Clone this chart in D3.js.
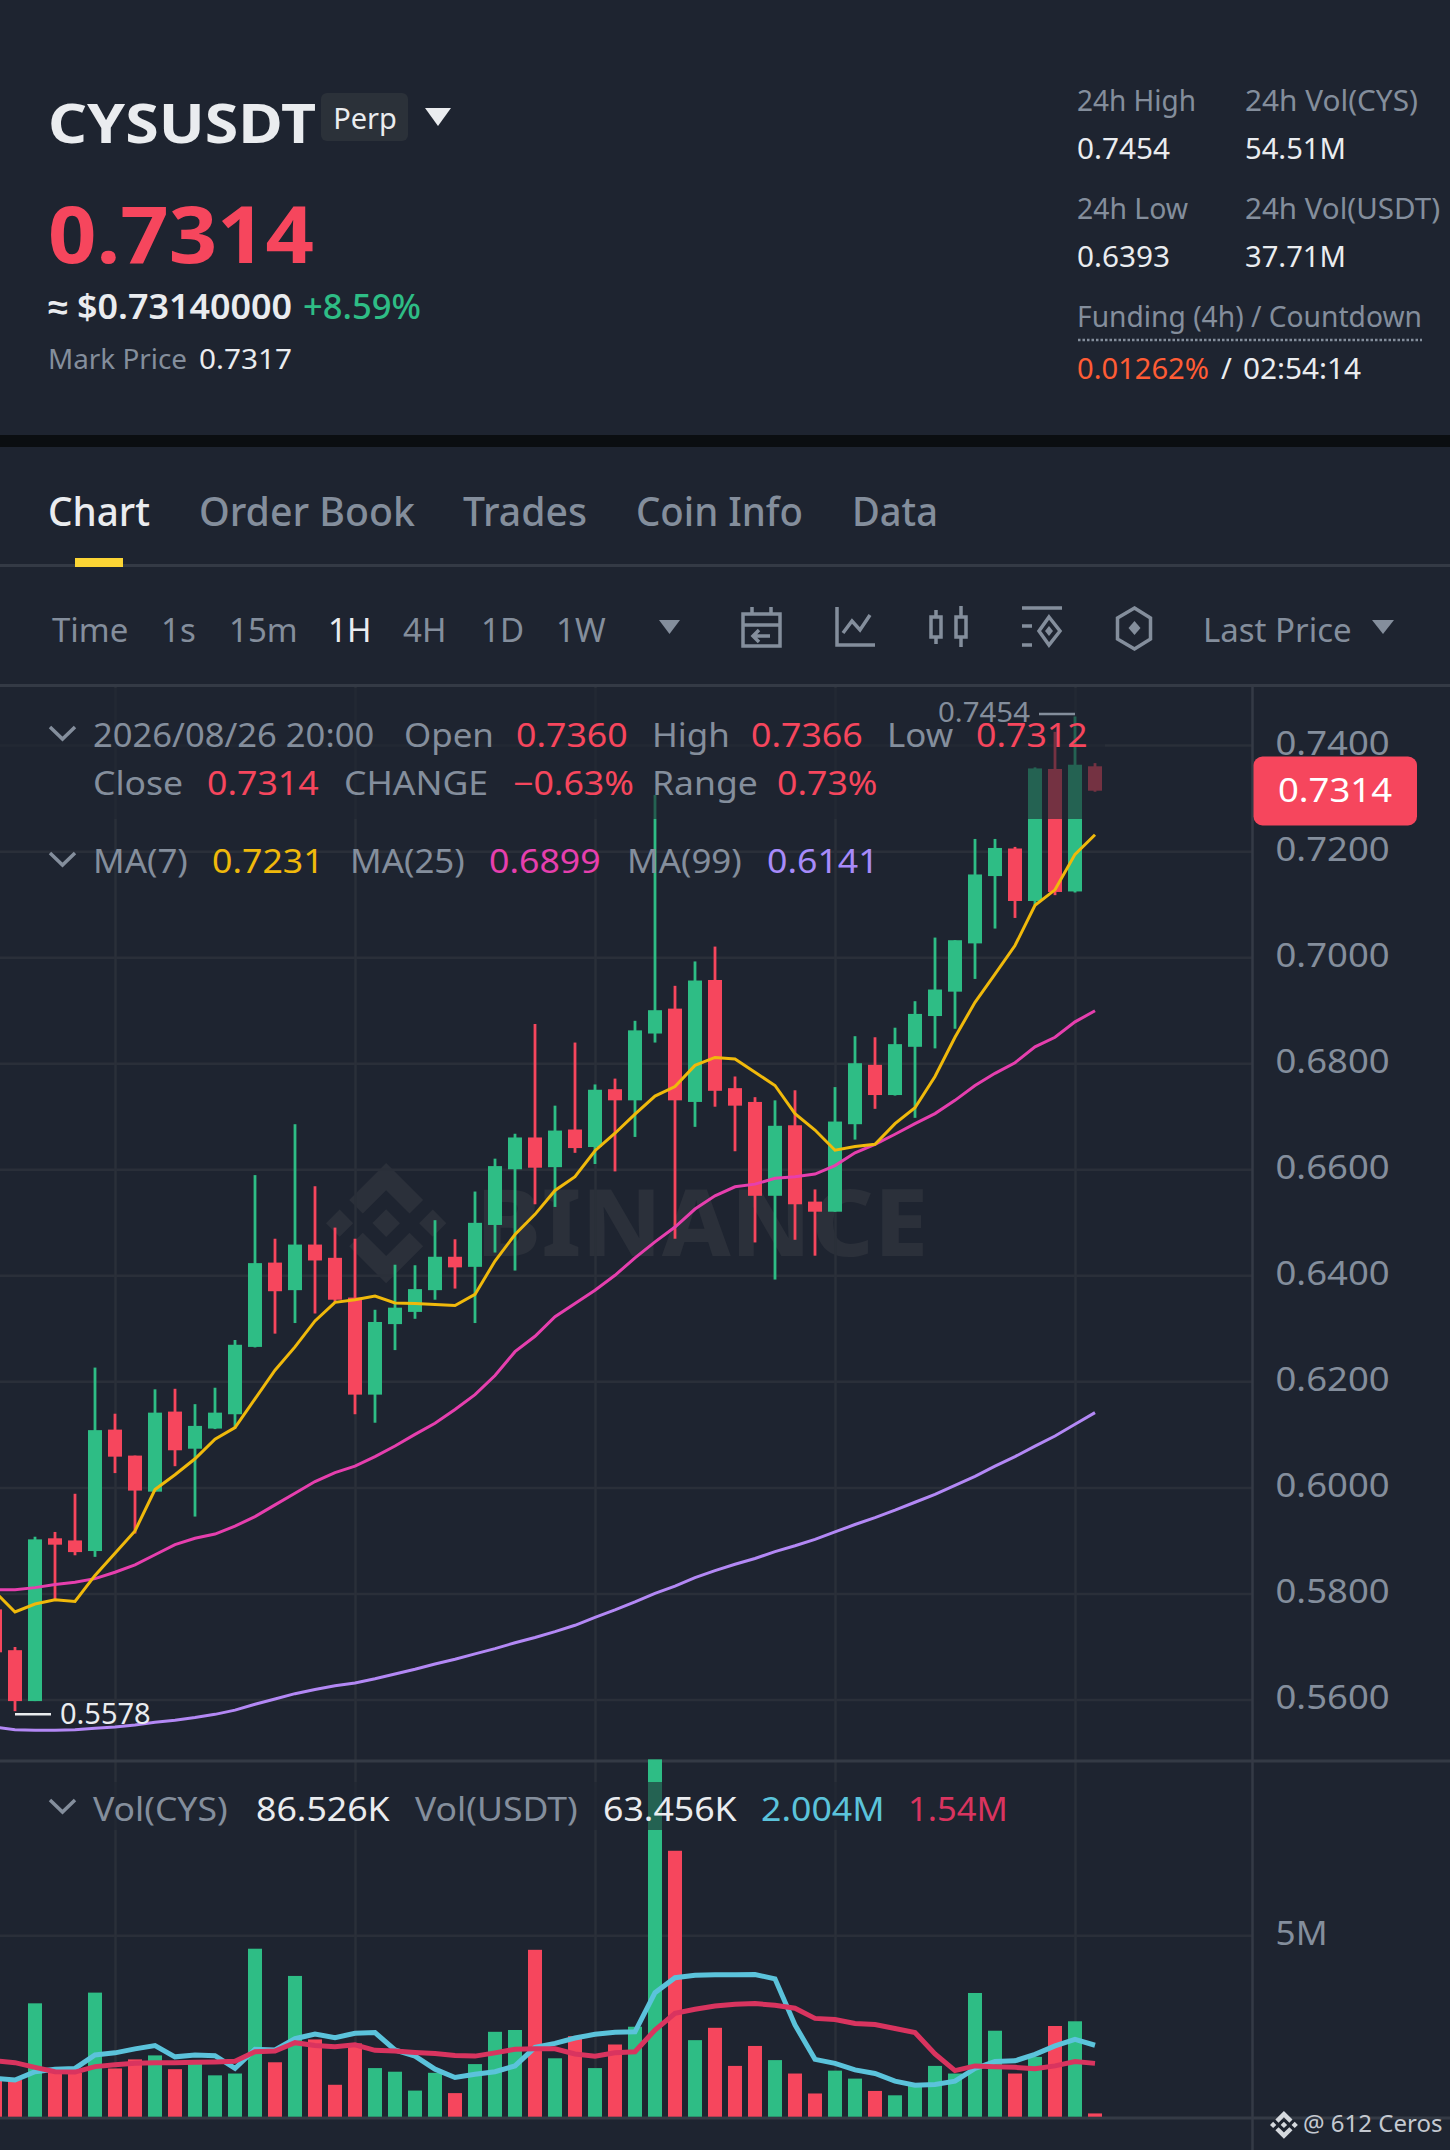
<!DOCTYPE html>
<html><head><meta charset="utf-8">
<script src="https://cdnjs.cloudflare.com/ajax/libs/d3/7.8.5/d3.min.js"></script>
<style>html,body{margin:0;padding:0;background:#1e2430;overflow:hidden}svg{display:block}text{font-family:"Noto Sans",sans-serif}</style>
</head><body><div id="c"></div>
<script>
const candleOpen=[.5770,.5693,.5597,.5904,.5900,.5880,.6109,.6060,.5992,.6143,.6073,.6111,.6138,.6265,.6424,.6372,.6458,.6433,.6358,.6175,.6308,.6331,.6372,.6435,.6416,.6495,.6600,.6660,.6604,.6675,.6642,.6751,.6730,.6856,.6903,.6727,.6957,.6753,.6727,.6550,.6683,.6539,.6520,.6685,.6797,.6740,.6831,.6889,.6935,.7026,.7153,.7205,.7106,.7355,.7124,.7360];
const candleHigh=[.5770,.5699,.5907,.5916,.5988,.6226,.6139,.6060,.6185,.6186,.6157,.6188,.6278,.6589,.6469,.6685,.6568,.6490,.6469,.6335,.6420,.6419,.6504,.6468,.6558,.6620,.6667,.6874,.6720,.6839,.6760,.6771,.6880,.7306,.6946,.6992,.7020,.6775,.6736,.6730,.6749,.6562,.6755,.6851,.6849,.6867,.6917,.7037,.7032,.7223,.7223,.7208,.7358,.7425,.7454,.7366];
const candleLow=[.5689,.5578,.5597,.5788,.5872,.5869,.6027,.5913,.5992,.6040,.5945,.6110,.6111,.6264,.6290,.6310,.6328,.6350,.6138,.6122,.6259,.6318,.6354,.6375,.6310,.6443,.6409,.6534,.6529,.6631,.6610,.6596,.6661,.6839,.6469,.6680,.6718,.6634,.6462,.6392,.6467,.6437,.6520,.6656,.6714,.6739,.6697,.6828,.6865,.6959,.7054,.7074,.7098,.7117,.7122,.7312];
const candleClose=[.5689,.5597,.5902,.5892,.5878,.6108,.6058,.5994,.6141,.6070,.6116,.6141,.6269,.6423,.6370,.6458,.6428,.6354,.6175,.6312,.6339,.6374,.6435,.6415,.6499,.6606,.6660,.6603,.6673,.6640,.6750,.6730,.6862,.6900,.6730,.6956,.6748,.6720,.6550,.6682,.6534,.6520,.6690,.6800,.6740,.6836,.6893,.6939,.7032,.7156,.7206,.7106,.7356,.7123,.7363,.7314];
const ma7=[.5803,.5765,.5780,.5788,.5785,.5834,.5876,.5918,.5996,.6024,.6054,.6091,.6113,.6167,.6221,.6265,.6314,.6349,.6354,.6361,.6348,.6347,.6345,.6343,.6364,.6427,.6477,.6515,.6560,.6586,.6635,.6668,.6704,.6738,.6756,.6796,.6811,.6808,.6783,.6758,.6705,.6674,.6636,.6643,.6647,.6686,.6716,.6775,.6849,.6915,.6968,.7022,.7098,.7127,.7194,.7231];
const ma25=[.5807,.5807,.5811,.5817,.5821,.5828,.5840,.5854,.5873,.5892,.5904,.5912,.5927,.5945,.5967,.5989,.6011,.6028,.6040,.6058,.6078,.6100,.6121,.6147,.6175,.6211,.6256,.6285,.6322,.6347,.6372,.6400,.6433,.6463,.6491,.6525,.6550,.6567,.6572,.6583,.6586,.6591,.6607,.6631,.6647,.6666,.6686,.6705,.6730,.6758,.6781,.6801,.6831,.6849,.6878,.6899];
const ma99=[.5548,.5543,.5542,.5542,.5543,.5546,.5548,.5552,.5557,.5561,.5566,.5572,.5580,.5591,.5601,.5611,.5619,.5626,.5631,.5639,.5648,.5657,.5667,.5676,.5686,.5696,.5707,.5717,.5728,.5740,.5755,.5769,.5784,.5800,.5814,.5830,.5843,.5855,.5866,.5879,.5890,.5902,.5916,.5930,.5943,.5957,.5972,.5987,.6004,.6021,.6040,.6058,.6078,.6097,.6119,.6141];
const volume=[1.06,1.01,3.125,1.21,1.21,3.42,1.33,1.58,1.69,1.31,1.47,1.14,1.19,4.63,1.50,3.88,2.13,.88,2.02,1.34,1.24,.72,1.21,.65,1.45,2.34,2.39,4.60,1.61,2.22,1.34,1.99,2.48,9.85,7.33,2.11,2.45,1.40,1.95,1.56,1.19,.64,1.27,1.05,.71,.59,.89,1.40,1.19,3.41,2.37,1.19,1.65,2.50,2.63,.09];
const volMa5=[1.06,1.01,1.24,1.31,1.33,1.70,1.76,1.87,1.96,1.65,1.70,1.68,1.33,1.86,1.84,2.15,2.28,2.18,2.30,2.32,1.84,1.67,1.31,1.08,1.17,1.24,1.40,1.91,2.02,2.17,2.27,2.33,2.34,3.42,3.83,3.90,3.91,3.91,3.92,3.80,2.53,1.58,1.47,1.29,1.19,.98,.87,.89,.98,1.33,1.52,1.54,1.72,1.95,2.13,1.97];
const volMa10=[1.54,1.49,1.36,1.24,1.23,1.38,1.43,1.47,1.49,1.49,1.50,1.51,1.53,1.79,1.81,2.04,1.96,1.93,1.98,1.83,1.81,1.77,1.74,1.69,1.67,1.76,1.86,1.87,1.87,1.73,1.67,1.76,1.79,2.39,2.85,2.96,3.05,3.10,3.12,3.07,2.99,2.71,2.68,2.57,2.54,2.43,2.32,1.73,1.27,1.40,1.38,1.36,1.32,1.40,1.52,1.47];
const priceTicks=[.74,.72,.70,.68,.66,.64,.62,.60,.58,.56];
const volTicks=[5];
const timeGridIdx=[6,18,30,42,54];
const tabs=["Chart","Order Book","Trades","Coin Info","Data"];
const intervals=["Time","1s","15m","1H","4H","1D","1W"];

const W=1450,H=2150,BG="#1e2430",UP="#2ebd85",DOWN="#f6465d",GRAY="#848e9c",WHITE="#eaecef",GRID="#2a2f39",SEP="#343a45";
const AX=1252.5;
const svg=d3.select("#c").append("svg").attr("width",W).attr("height",H).attr("viewBox",`0 0 ${W} ${H}`);
svg.append("rect").attr("width",W).attr("height",H).attr("fill",BG);
const idx=d3.range(candleOpen.length);
const x=d3.scaleLinear().domain([0,55]).range([-5,1095]);
const y=d3.scaleLinear().domain([.56,.74]).range([1699.5,745.1]);
const yV=d3.scaleLinear().domain([0,5]).range([2116.7,1935.3]);
const BINANCE="M38.73 53.2l24.59-24.58 24.6 24.6 14.3-14.31L63.32 0 24.42 38.9l14.31 14.3zM0 63.31l14.3-14.31 14.31 14.31-14.31 14.3zM38.73 73.41l24.59 24.59 24.6-24.6 14.31 14.29-38.9 38.91-38.91-38.88-.02-.02zM98.04 63.31l14.31-14.31 14.3 14.31-14.3 14.3zM77.83 63.3L63.32 48.78 52.59 59.51l-1.24 1.23-2.54 2.54 14.51 14.52 14.52-14.5z";

function T(g,t,px,py,size,fill,weight,anchor){return g.append("text").attr("x",px).attr("y",py).attr("font-size",size).attr("fill",fill).attr("font-weight",weight||400).attr("text-anchor",anchor||"start").text(t);}
function stretch(sel,k){sel.each(function(){this.setAttribute("textLength",this.getComputedTextLength()*k);this.setAttribute("lengthAdjust","spacingAndGlyphs");});return sel;}
function fit(sel,len){return sel.attr("textLength",len).attr("lengthAdjust","spacingAndGlyphs");}

// header
const hd=svg.append("g");
fit(T(hd,"CYSUSDT",48,143,54,WHITE,700),268);
hd.append("rect").attr("x",321).attr("y",93).attr("width",87).attr("height",48).attr("rx",6).attr("fill","#2b3139");
T(hd,"Perp",365,129,29,WHITE,400,"middle");
hd.append("path").attr("d","M425 108h26l-13 18z").attr("fill",WHITE);
fit(T(hd,"0.7314",48,263,78,DOWN,700),266);
fit(T(hd,"≈ $0.73140000",48,319,34,WHITE,600),244);
fit(T(hd,"+8.59%",303,319,34,UP,500),118);
fit(T(hd,"Mark Price",48,369,28,GRAY),139);
fit(T(hd,"0.7317",199,369,28,WHITE),93);
fit(T(hd,"24h High",1077,111,29,GRAY),119);fit(T(hd,"24h Vol(CYS)",1245,111,29,GRAY),173);
fit(T(hd,"0.7454",1077,159,29,WHITE),93);fit(T(hd,"54.51M",1245,159,29,WHITE),101);
fit(T(hd,"24h Low",1077,219,29,GRAY),111);fit(T(hd,"24h Vol(USDT)",1245,219,29,GRAY),195);
fit(T(hd,"0.6393",1077,267,29,WHITE),93);fit(T(hd,"37.71M",1245,267,29,WHITE),101);
fit(T(hd,"Funding (4h) / Countdown",1077,327,29,GRAY),345);
hd.append("line").attr("x1",1078).attr("x2",1422).attr("y1",340).attr("y2",340).attr("stroke",GRAY).attr("stroke-width",2.5).attr("stroke-dasharray","2.5 2");
fit(T(hd,"0.01262%",1077,379,29,"#ff5c35"),132);T(hd,"/",1221,379,29,WHITE);fit(T(hd,"02:54:14",1243,379,29,WHITE),118);
svg.append("rect").attr("y",435).attr("width",W).attr("height",12).attr("fill","#0b0e11");

// tabs
const tabX=[48,199,463,636,852],tabLen=[102,216,124,167,86];
tabs.forEach((t,i)=>fit(T(svg,t,tabX[i],526,39.2,i==0?WHITE:GRAY,500),tabLen[i]));
svg.append("rect").attr("y",564).attr("width",W).attr("height",3).attr("fill",SEP);
svg.append("rect").attr("x",75).attr("y",558).attr("width",48).attr("height",9).attr("fill","#fcd535");

// toolbar
const intX=[52,161,229,328,403,481,556];
intervals.forEach((t,i)=>T(svg,t,intX[i],642,33,t=="1H"?WHITE:GRAY));
svg.append("path").attr("d","M659 620h21l-10.500 14z").attr("fill",GRAY);
T(svg,"Last Price",1203,642,33,GRAY);
svg.append("path").attr("d","M1372 620h22l-11 14z").attr("fill",GRAY);
const ic=svg.append("g").attr("fill","none").attr("stroke",GRAY).attr("stroke-width",3.5);
ic.append("path").attr("d","M743 614h37v32h-37zM743 625h37M752 607v7M771 607v7M770 636h-16M759 630l-6 6 6 6");
ic.append("path").attr("d","M837 607v38h38M843 633l9-12 8 9 10-15");
ic.append("path").attr("d","M931 617h10v20h-10zM956 617h10v20h-10zM936 610v7M936 637v7M961 606v11M961 637v10");
ic.append("path").attr("d","M1022 608h40M1022 626h10M1022 645h10");
ic.append("path").attr("d","M1049 617l11 14-11 14-10-14z");
ic.append("path").attr("d","M1134.500 608l16 10v21l-16 10-17-10v-21z");
svg.append("path").attr("d","M1134.500 621l6 7-6 7-6-7z").attr("fill",GRAY);
svg.append("path").attr("d","M1049 626l4 5-4 5-4-5z").attr("fill",GRAY);
svg.append("rect").attr("y",684).attr("width",W).attr("height",3).attr("fill",SEP);

// watermark
svg.append("path").attr("d",BINANCE).attr("transform","translate(326,1163) scale(.95)").attr("fill","#2b303a");
fit(T(svg,"BINANCE",476,1256,92,"#2b303a",800),452);

// grid
const gridG=svg.append("g").attr("transform",`translate(${AX},0)`);
gridG.call(d3.axisLeft(y).tickValues(priceTicks).tickSize(AX).tickFormat(""));
gridG.selectAll("line").attr("stroke",GRID).attr("stroke-width",2.5);gridG.select(".domain").remove();
const gridV=svg.append("g").attr("transform",`translate(${AX},0)`);
gridV.call(d3.axisLeft(yV).tickValues(volTicks).tickSize(AX).tickFormat(""));
gridV.selectAll("line").attr("stroke",GRID).attr("stroke-width",2.5);gridV.select(".domain").remove();
const gridT=svg.append("g").attr("transform","translate(0,687)");
gridT.call(d3.axisBottom(x).tickValues(timeGridIdx).tickSize(1430).tickFormat(""));
gridT.selectAll("line").attr("stroke",GRID).attr("stroke-width",2.5);gridT.select(".domain").remove();

// panel rules
svg.append("rect").attr("y",1759.5).attr("width",W).attr("height",3).attr("fill",SEP);
svg.append("rect").attr("y",2116.500).attr("width",W).attr("height",3).attr("fill",SEP);
svg.append("rect").attr("x",AX-1.25).attr("y",687).attr("width",2.5).attr("height",H-687).attr("fill",SEP);

// candles
const col=i=>candleClose[i]<candleOpen[i]?DOWN:UP;
const cg=svg.append("g");
cg.selectAll("line").data(idx).join("line").attr("x1",x).attr("x2",x)
  .attr("y1",i=>y(candleHigh[i])).attr("y2",i=>y(candleLow[i])).attr("stroke",col).attr("stroke-width",2.8);
cg.selectAll("rect").data(idx).join("rect").attr("x",i=>x(i)-7).attr("width",14)
  .attr("y",i=>y(Math.max(candleOpen[i],candleClose[i])))
  .attr("height",i=>Math.abs(y(candleOpen[i])-y(candleClose[i]))).attr("fill",col);

// MA lines
const line=a=>d3.line().x(i=>x(i)).y(i=>y(a[i]))(idx);
[[ma99,"#b388f5"],[ma25,"#e63fae"],[ma7,"#f0b90b"]].forEach(([a,c])=>svg.append("path").attr("d",line(a)).attr("fill","none").attr("stroke",c).attr("stroke-width",3));

// volume
const vg=svg.append("g");
vg.selectAll("rect").data(idx).join("rect").attr("x",i=>x(i)-7).attr("width",14)
  .attr("y",i=>yV(volume[i])).attr("height",i=>yV(0)-yV(volume[i])).attr("fill",col);
const lineV=a=>d3.line().x(i=>x(i)).y(i=>yV(a[i]))(idx);
[[volMa5,"#5bc3db"],[volMa10,"#d9345f"]].forEach(([a,c])=>svg.append("path").attr("d",lineV(a)).attr("fill","none").attr("stroke",c).attr("stroke-width",5));

// legend dimming
svg.append("rect").attr("x",0).attr("y",688).attr("width",1105).attr("height",131).attr("fill",BG).attr("opacity",.6);
svg.append("rect").attr("x",0).attr("y",1782).attr("width",1010).attr("height",48).attr("fill",BG).attr("opacity",.6);

// price axis
const ya=svg.append("g").attr("transform",`translate(${AX},0)`);
ya.call(d3.axisRight(y).tickValues(priceTicks).tickSize(0).tickPadding(23).tickFormat(d3.format(".4f")));
ya.select(".domain").remove();
stretch(ya.selectAll("text").attr("fill",GRAY).attr("font-size",32).attr("dy",".28em").style("font-family",'"Noto Sans",sans-serif'),1.14);
const va=svg.append("g").attr("transform",`translate(${AX},0)`);
va.call(d3.axisRight(yV).tickValues(volTicks).tickSize(0).tickPadding(23).tickFormat(d=>d+"M"));
va.select(".domain").remove();
stretch(va.selectAll("text").attr("fill",GRAY).attr("font-size",32).attr("dy",".28em").style("font-family",'"Noto Sans",sans-serif'),1.1);
svg.append("rect").attr("x",1253.500).attr("y",756.5).attr("width",163.500).attr("height",69).attr("rx",9).attr("fill",DOWN);
stretch(T(svg,candleClose[55].toFixed(4),1335,802,32,"#fff",400,"middle"),1.14);

// legends
function chev(px,py){svg.append("path").attr("d",`M${px} ${py}l12.500 12 12.500-12`).attr("fill","none").attr("stroke",GRAY).attr("stroke-width",3.5);}
chev(50,727);chev(50,853);chev(50,1800);
const LS=32;
const leg=(d,py,lab)=>stretch(T(svg,d[0],d[1],py,LS,d[2]),d[3]||(/^[−\d]/.test(d[0])?1.115:lab));
[["2026/08/26 20:00",93,GRAY,1.08],["Open",404,GRAY],["0.7360",516,DOWN],["High",652,GRAY],["0.7366",751,DOWN],["Low",887,GRAY],["0.7312",976,DOWN]].forEach(d=>leg(d,747,1.09));
[["Close",93,GRAY],["0.7314",207,DOWN],["CHANGE",344,GRAY],["−0.63%",513,DOWN],["Range",652,GRAY],["0.73%",777,DOWN]].forEach(d=>leg(d,795,1.11));
[["MA(7)",93,GRAY],["0.7231",212,"#f0b90b"],["MA(25)",350,GRAY],["0.6899",489,"#e63fae"],["MA(99)",627,GRAY],["0.6141",767,"#a78bfa"]].forEach(d=>leg(d,873,1.09));
[["Vol(CYS)",93,GRAY],["86.526K",256,WHITE],["Vol(USDT)",415,GRAY],["63.456K",603,WHITE],["2.004M",761,"#5bc3db"],["1.54M",908,"#d9345f",1.08]].forEach(d=>leg(d,1821,1.11));

// extremes
stretch(T(svg,d3.max(candleHigh).toFixed(4),938,722,28,GRAY),1.05);
svg.append("line").attr("x1",1039).attr("x2",1075).attr("y1",y(d3.max(candleHigh))-2.5).attr("y2",y(d3.max(candleHigh))-2.5).attr("stroke",GRAY).attr("stroke-width",2.5);
T(svg,d3.min(candleLow).toFixed(4),60,1724,29,WHITE);
svg.append("line").attr("x1",15).attr("x2",51).attr("y1",y(d3.min(candleLow))+3).attr("y2",y(d3.min(candleLow))+3).attr("stroke",WHITE).attr("stroke-width",2.5);

// signature
svg.append("path").attr("d",BINANCE).attr("transform","translate(1270,2111) scale(.22)").attr("fill","#d5d9de");
T(svg,"@ 612 Ceros",1303,2132,24,"#c4c9d0");
</script></body></html>
